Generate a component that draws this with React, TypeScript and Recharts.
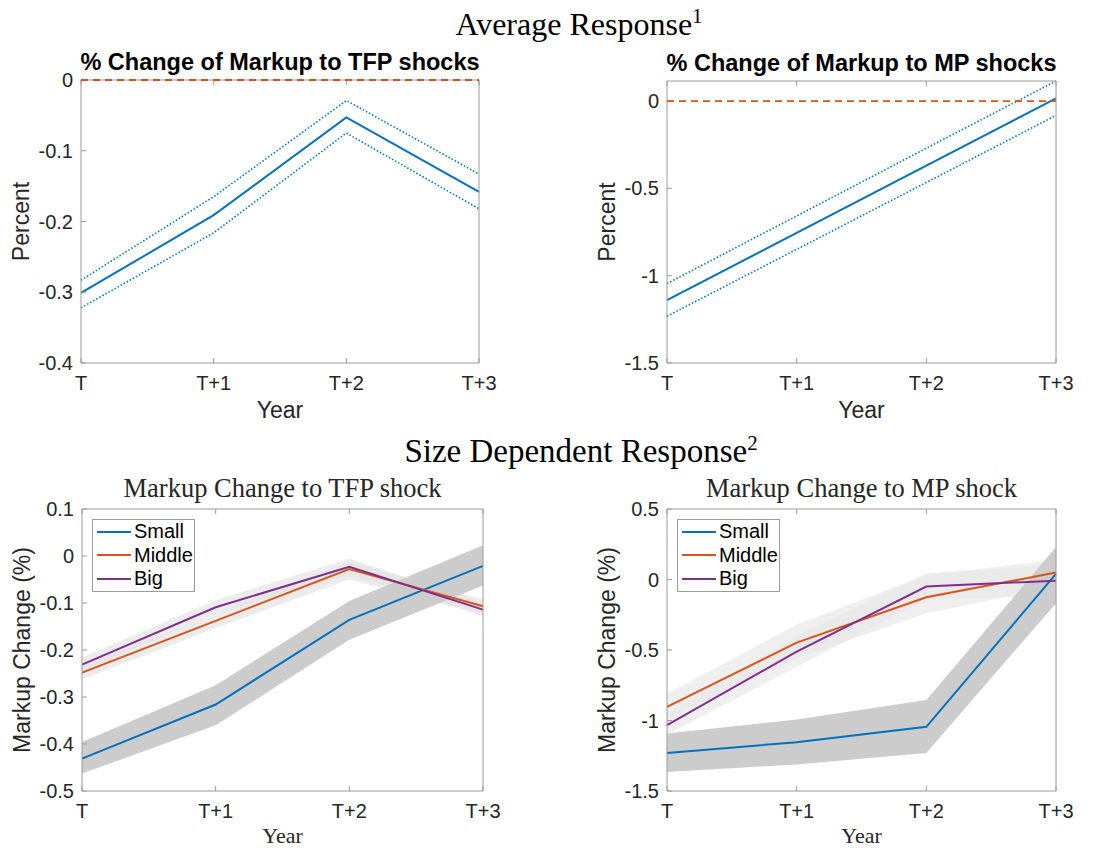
import React from 'react';
import { ComposedChart, Line, Area, XAxis, YAxis, Legend } from 'recharts';

const years = ['T', 'T+1', 'T+2', 'T+3'];
const zeroLine = [0, 0, 0, 0];

// average response to TFP shocks (point estimate and confidence bounds)
const tfpMean = [-0.301, -0.191, -0.053, -0.158];
const tfpUpper = [-0.283, -0.165, -0.029, -0.133];
const tfpLower = [-0.322, -0.216, -0.075, -0.182];

// average response to MP shocks
const mpMean = [-1.14, -0.755, -0.37, 0.015];
const mpUpper = [-1.045, -0.658, -0.27, 0.115];
const mpLower = [-1.232, -0.849, -0.466, -0.082];

// size dependent response to TFP shock
const tfpSmall = [-0.431, -0.316, -0.136, -0.021];
const tfpSmallLo = [-0.463, -0.36, -0.178, -0.063];
const tfpSmallHi = [-0.396, -0.275, -0.096, 0.023];
const tfpMiddle = [-0.248, -0.138, -0.028, -0.107];
const tfpMiddleLo = [-0.263, -0.153, -0.05, -0.122];
const tfpMiddleHi = [-0.233, -0.123, -0.012, -0.092];
const tfpBig = [-0.231, -0.109, -0.023, -0.114];
const tfpBigLo = [-0.246, -0.122, -0.04, -0.128];
const tfpBigHi = [-0.216, -0.094, -0.006, -0.1];

// size dependent response to MP shock
const mpSmall = [-1.23, -1.154, -1.045, 0.04];
const mpSmallLo = [-1.365, -1.312, -1.23, -0.168];
const mpSmallHi = [-1.092, -0.993, -0.855, 0.23];
const mpMiddle = [-0.903, -0.448, -0.126, 0.049];
const mpMiddleLo = [-0.99, -0.56, -0.24, -0.05];
const mpMiddleHi = [-0.81, -0.32, 0.03, 0.14];
const mpBig = [-1.033, -0.512, -0.05, -0.008];
const mpBigLo = [-1.1, -0.62, -0.14, -0.12];
const mpBigHi = [-0.95, -0.4, 0.045, 0.1];

const sizeGroups = ['Small', 'Middle', 'Big'];

const tfpTicks = [-0.4, -0.3, -0.2, -0.1, 0];
const mpTicks = [-1.5, -1, -0.5, 0];
const tfpSizeTicks = [-0.5, -0.4, -0.3, -0.2, -0.1, 0, 0.1];
const mpSizeTicks = [-1.5, -1, -0.5, 0, 0.5];

const SANS = '"Liberation Sans", Arial, Helvetica, sans-serif';
const SERIF = '"Liberation Serif", "Times New Roman", serif';
const INK = '#262626';
const BOX = '#9a9a9a';
const BLUE = '#0072BD';
const ORANGE = '#D95319';
const PURPLE = '#7E2F8E';
const groupColors = [BLUE, ORANGE, PURPLE];

const Y_AXIS_W = 80;
const X_AXIS_H = 70;
// the right and top axes only carry the box edge and inward ticks, 1px each
const MARGIN = { top: 39, right: 29, left: 0, bottom: 0 };

const avgTfpRows = years.map((year, i) => ({
  year,
  zero: zeroLine[i],
  mean: tfpMean[i],
  upper: tfpUpper[i],
  lower: tfpLower[i],
}));

const avgMpRows = years.map((year, i) => ({
  year,
  zero: zeroLine[i],
  mean: mpMean[i],
  upper: mpUpper[i],
  lower: mpLower[i],
}));

const tfpSizeRows = years.map((year, i) => ({
  year,
  small: tfpSmall[i],
  middle: tfpMiddle[i],
  big: tfpBig[i],
  smallBand: [tfpSmallLo[i], tfpSmallHi[i]],
  middleBand: [tfpMiddleLo[i], tfpMiddleHi[i]],
  bigBand: [tfpBigLo[i], tfpBigHi[i]],
}));

const mpSizeRows = years.map((year, i) => ({
  year,
  small: mpSmall[i],
  middle: mpMiddle[i],
  big: mpBig[i],
  smallBand: [mpSmallLo[i], mpSmallHi[i]],
  middleBand: [mpMiddleLo[i], mpMiddleHi[i]],
  bigBand: [mpBigLo[i], mpBigHi[i]],
}));

const tickStyle = { fill: INK, fontSize: 20, fontFamily: SANS };
const noTick = () => <g />;

const yLabel = (text: string) => (props: any) => {
  const vb = props.viewBox;
  const cx = vb.x + vb.width - 52;
  const cy = vb.y + vb.height / 2;
  return (
    <text x={cx} y={cy} transform={`rotate(-90 ${cx} ${cy})`} textAnchor="middle"
      fontSize={23} fontFamily={SANS} fill={INK}>
      {text}
    </text>
  );
};

const xLabel = (serif: boolean) => (props: any) => {
  const vb = props.viewBox;
  return (
    <text x={vb.x + vb.width / 2} y={vb.y + (serif ? 52 : 55)} textAnchor="middle"
      fontSize={serif ? 22 : 23} fontFamily={serif ? SERIF : SANS} fill={INK}>
      Year
    </text>
  );
};

const titleLabel = (text: string, serif: boolean) => (props: any) => {
  const vb = props.viewBox;
  return (
    <text x={vb.x + vb.width / 2} y={vb.y + vb.height - (serif ? 12 : 10)} textAnchor="middle"
      fontSize={serif ? 26.5 : 23.5} fontWeight={serif ? 400 : 700}
      fontFamily={serif ? SERIF : SANS} fill={serif ? INK : '#000'}>
      {text}
    </text>
  );
};

const SizeLegend = () => (
  <div style={{
    width: 103, boxSizing: 'border-box', border: `1px solid ${BOX}`, background: '#fff',
    fontFamily: SANS, fontSize: 20, color: '#000', lineHeight: '23.5px', padding: '0 0 0 4px',
  }}>
    {sizeGroups.map((g, i) => (
      <div key={g} style={{ display: 'flex', alignItems: 'center' }}>
        <span style={{ width: 34, height: 0, borderTop: `2px solid ${groupColors[i]}`, marginRight: 3 }} />
        {g}
      </div>
    ))}
  </div>
);

interface PanelProps {
  x: number;
  y: number;
  w: number;
  h: number;
  rows: any[];
  domain: [number, number];
  ticks: number[];
  title: string;
  serif: boolean;
  yText: string;
  children: React.ReactNode;
}

// one framed MATLAB-style axes: inward ticks on all four sides
const Panel = ({ x, y, w, h, rows, domain, ticks, title, serif, yText, children }: PanelProps) => (
  <div style={{ position: 'absolute', left: x - Y_AXIS_W, top: y - MARGIN.top - 1 }}>
    <ComposedChart width={w + Y_AXIS_W + MARGIN.right + 1} height={h + MARGIN.top + 1 + X_AXIS_H}
      data={rows} margin={MARGIN}>
      <XAxis dataKey="year" scale="point" padding={{ left: 0, right: 0 }} height={X_AXIS_H}
        interval={0} tickSize={-5} tickMargin={18} stroke={BOX} tick={tickStyle}
        label={xLabel(serif)} />
      <XAxis xAxisId="top" orientation="top" dataKey="year" scale="point"
        padding={{ left: 0, right: 0 }} height={1} interval={0} tickSize={-5} stroke={BOX}
        tick={noTick} label={titleLabel(title, serif)} />
      <YAxis type="number" domain={domain} ticks={ticks} width={Y_AXIS_W} interval={0}
        tickSize={-5} tickMargin={13} stroke={BOX} tick={tickStyle}
        label={yLabel(yText)} />
      <YAxis yAxisId="right" orientation="right" type="number" domain={domain} ticks={ticks}
        width={1} interval={0} tickSize={-5} stroke={BOX} tick={noTick} />
      {children}
    </ComposedChart>
  </div>
);

const bandProps = { type: 'linear' as const, stroke: 'none', dot: false, activeDot: false, isAnimationActive: false };
const lineProps = { type: 'linear' as const, dot: false, activeDot: false, isAnimationActive: false };
// zero reference drawn above the axes so it stays visible on the box edge
const zeroProps = { ...lineProps, stroke: ORANGE, strokeWidth: 1.8, strokeDasharray: '7 5', zIndex: 700 };

export default function App() {
  return (
    <div style={{ position: 'absolute', left: 0, top: 0, width: 1104, height: 848, overflow: 'hidden', background: '#fff' }}>
      <svg width={1104} height={848} style={{ position: 'absolute', left: 0, top: 0 }}>
        <text x={579} y={35} textAnchor="middle" fontSize={32} fontFamily={SERIF} fill="#000">
          Average Response<tspan fontSize={21} dy={-12}>1</tspan>
        </text>
        <text x={581} y={462} textAnchor="middle" fontSize={33} fontFamily={SERIF} fill="#000">
          Size Dependent Response<tspan fontSize={21} dy={-12}>2</tspan>
        </text>
      </svg>

      <Panel x={81} y={80} w={398} h={283} rows={avgTfpRows} domain={[-0.4, 0]} ticks={tfpTicks}
        title="% Change of Markup to TFP shocks" serif={false} yText="Percent">
        <Line dataKey="upper" stroke={BLUE} strokeWidth={1.6} strokeDasharray="1.5 2" {...lineProps} />
        <Line dataKey="lower" stroke={BLUE} strokeWidth={1.6} strokeDasharray="1.5 2" {...lineProps} />
        <Line dataKey="mean" stroke={BLUE} strokeWidth={2} {...lineProps} />
        <Line dataKey="zero" {...zeroProps} />
      </Panel>

      <Panel x={667} y={81} w={389} h={282} rows={avgMpRows} domain={[-1.5, 0.115]} ticks={mpTicks}
        title="% Change of Markup to MP shocks" serif={false} yText="Percent">
        <Line dataKey="zero" {...zeroProps} />
        <Line dataKey="upper" stroke={BLUE} strokeWidth={1.6} strokeDasharray="1.5 2" {...lineProps} />
        <Line dataKey="lower" stroke={BLUE} strokeWidth={1.6} strokeDasharray="1.5 2" {...lineProps} />
        <Line dataKey="mean" stroke={BLUE} strokeWidth={2} {...lineProps} />
      </Panel>

      <Panel x={82} y={509} w={401} h={282} rows={tfpSizeRows} domain={[-0.5, 0.1]} ticks={tfpSizeTicks}
        title="Markup Change to TFP shock" serif yText="Markup Change (%)">
        <Area dataKey="middleBand" fill="#e4e4e4" fillOpacity={0.7} {...bandProps} />
        <Area dataKey="bigBand" fill="#e4e4e4" fillOpacity={0.7} {...bandProps} />
        <Area dataKey="smallBand" fill="#cccccc" fillOpacity={1} {...bandProps} />
        <Line dataKey="small" stroke={BLUE} strokeWidth={2} {...lineProps} />
        <Line dataKey="middle" stroke={ORANGE} strokeWidth={2} {...lineProps} />
        <Line dataKey="big" stroke={PURPLE} strokeWidth={2} {...lineProps} />
        <Legend layout="vertical" align="center" verticalAlign="middle" content={SizeLegend}
          wrapperStyle={{ left: 90, top: 50, width: 'auto', height: 'auto' }} />
      </Panel>

      <Panel x={667} y={509} w={389} h={282} rows={mpSizeRows} domain={[-1.5, 0.5]} ticks={mpSizeTicks}
        title="Markup Change to MP shock" serif yText="Markup Change (%)">
        <Area dataKey="middleBand" fill="#e8e8e8" fillOpacity={0.7} {...bandProps} />
        <Area dataKey="bigBand" fill="#e8e8e8" fillOpacity={0.7} {...bandProps} />
        <Area dataKey="smallBand" fill="#cccccc" fillOpacity={1} {...bandProps} />
        <Line dataKey="small" stroke={BLUE} strokeWidth={2} {...lineProps} />
        <Line dataKey="middle" stroke={ORANGE} strokeWidth={2} {...lineProps} />
        <Line dataKey="big" stroke={PURPLE} strokeWidth={2} {...lineProps} />
        <Legend layout="vertical" align="center" verticalAlign="middle" content={SizeLegend}
          wrapperStyle={{ left: 90, top: 50, width: 'auto', height: 'auto' }} />
      </Panel>
    </div>
  );
}
